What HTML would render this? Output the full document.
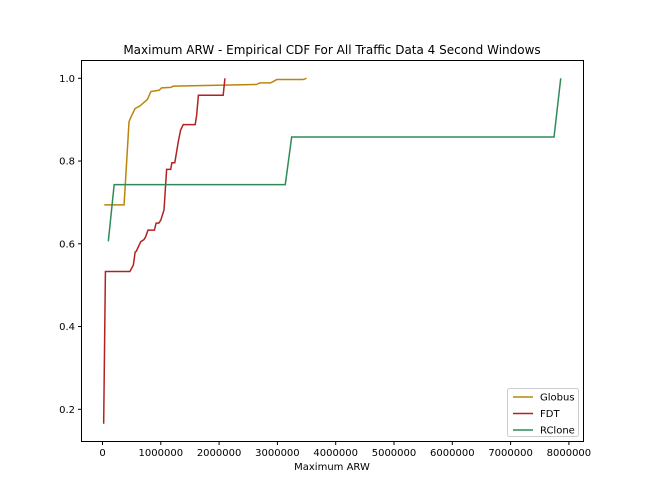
<!DOCTYPE html>
<html><head><meta charset="utf-8"><style>
body{margin:0;background:#fff}
svg{display:block;font-family:"DejaVu Sans","Liberation Sans",sans-serif}
</style></head><body>
<svg id="chart" width="648" height="504">
<rect width="648" height="504" fill="#fff"/>
<text x="332" y="54" text-anchor="middle" font-size="12" fill="#000">Maximum ARW - Empirical CDF For All Traffic Data 4 Second Windows</text>
<text x="332" y="470" text-anchor="middle" font-size="10" fill="#000">Maximum ARW</text>
<g id="ticks"></g>
<g id="lines"></g>
<rect x="81.5" y="60.5" width="502" height="381" fill="none" stroke="#000" stroke-width="1"/>
<g id="legend">
<rect x="507.5" y="388.5" width="71" height="48" rx="2" fill="#fff" stroke="#ccc"/>
</g>
</svg>
<script>
const xTicks=[0,1000000,2000000,3000000,4000000,5000000,6000000,7000000,8000000];
const yTicks=[0.2,0.4,0.6,0.8,1.0];
const seriesNames=["Globus","FDT","RClone"];
const seriesColors=["#b8860b","#b22222","#2e8b57"];
const globusX=[0.03,0.37,0.455,0.49,0.56,0.64,0.77,0.83,0.97,1.015,1.17,1.215,2.64,2.70,2.885,2.99,3.44,3.50];
const globusY=[0.694,0.694,0.895,0.907,0.927,0.933,0.949,0.968,0.971,0.977,0.978,0.981,0.985,0.989,0.989,0.997,0.997,1.0];
const fdtX=[0.02,0.05,0.47,0.53,0.56,0.58,0.655,0.71,0.74,0.78,0.89,0.92,0.965,1.0,1.055,1.10,1.17,1.19,1.24,1.30,1.34,1.385,1.59,1.615,1.645,2.07,2.10];
const fdtY=[0.165,0.533,0.533,0.549,0.580,0.582,0.605,0.610,0.617,0.633,0.633,0.650,0.650,0.657,0.682,0.780,0.780,0.796,0.796,0.847,0.875,0.888,0.888,0.911,0.959,0.959,1.0];
const rcloneX=[0.10,0.20,3.135,3.245,7.745,7.86];
const rcloneY=[0.606,0.743,0.743,0.858,0.858,1.0];
const NS="http://www.w3.org/2000/svg";
const sx=v=>102.5+v/1000000*58.3;
const sy=v=>409.3-(v-0.2)*413.75;
const T=document.getElementById('ticks'),L=document.getElementById('lines'),G=document.getElementById('legend');
function mk(tag,attrs,parent){const e=document.createElementNS(NS,tag);for(const k in attrs)e.setAttribute(k,attrs[k]);parent.appendChild(e);return e;}
xTicks.forEach(t=>{const x=sx(t);
 const l=mk('line',{x1:x,x2:x,y1:441.5,y2:445,stroke:'#000'},T);
 
 
 const tx=mk('text',{x:x,y:456,'text-anchor':'middle','font-size':10},T);tx.textContent=String(t);
 
 });
yTicks.forEach(t=>{const y=sy(t);
 const l=mk('line',{x1:78,x2:81.5,y1:y,y2:y,stroke:'#000'},T);
 
 
 const tx=mk('text',{x:75,y:y+3.5,'text-anchor':'end','font-size':10},T);tx.textContent=t.toFixed(1);
 
 });
const data=[[globusX,globusY],[fdtX,fdtY],[rcloneX,rcloneY]];
data.forEach((d,i)=>{const pts=d[0].map((x,j)=>sx(x*1000000)+','+sy(d[1][j])).join(' ');
 const p=mk('polyline',{points:pts,fill:'none',stroke:seriesColors[i],'stroke-width':1.5},L);
 
 
 const y=397+i*16.5;
 const ll=mk('line',{x1:513,x2:533,y1:y,y2:y,stroke:seriesColors[i],'stroke-width':1.5},G);
 
 
 const lt=mk('text',{x:540,y:y+3.5,'font-size':10},G);lt.textContent=seriesNames[i];
 
 });
</script>
</body></html>
